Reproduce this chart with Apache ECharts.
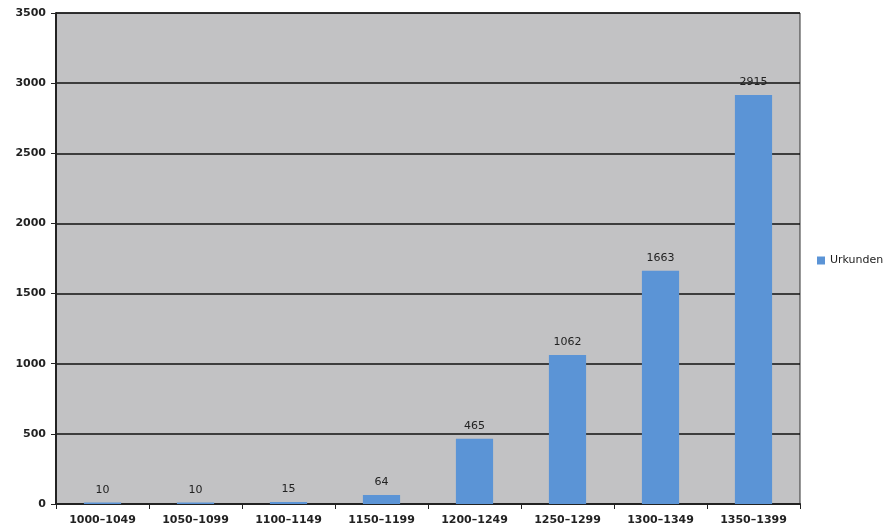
<!DOCTYPE html>
<html>
<head>
<meta charset="utf-8">
<script src="https://cdn.jsdelivr.net/npm/echarts@6/dist/echarts.min.js"></script>
<style>
  html, body { margin: 0; padding: 0; background: #fff; }
  #chart { width: 889px; height: 532px; }
</style>
</head>
<body>
<div id="chart"></div>
<script>
// Zeiträume und Anzahl der Urkunden
var periods = ['1000–1049', '1050–1099', '1100–1149', '1150–1199', '1200–1249', '1250–1299', '1300–1349', '1350–1399']
var urkunden = [10, 10, 15, 64, 465, 1062, 1663, 2915]
var seriesName = 'Urkunden'

var myChart = echarts.init(document.getElementById('chart'))
var textFont = 'DejaVu Sans'

var option = {
  animation: false,
  backgroundColor: '#ffffff',
  legend: {
    data: [{ name: seriesName, icon: 'rect' }],
    orient: 'vertical',
    left: 812,
    top: 250,
    itemWidth: 8,
    itemHeight: 8,
    itemGap: 4,
    textStyle: { fontFamily: textFont, fontSize: 11, color: '#222' }
  },
  grid: {
    left: 56,
    right: 89,
    top: 13,
    bottom: 28,
    show: true,
    backgroundColor: '#c2c2c4',
    borderColor: '#333',
    borderWidth: 1
  },
  xAxis: {
    type: 'category',
    data: periods,
    axisLine: { lineStyle: { color: '#222', width: 2 } },
    axisTick: { show: true, length: 5, lineStyle: { color: '#222' } },
    axisLabel: { fontFamily: textFont, fontSize: 11, fontWeight: 'bold', color: '#222', margin: 11 }
  },
  yAxis: {
    type: 'value',
    min: 0,
    max: 3500,
    interval: 500,
    axisLine: { show: true, lineStyle: { color: '#222', width: 2 } },
    axisTick: { show: true, length: 5, lineStyle: { color: '#222' } },
    axisLabel: {
      fontFamily: textFont,
      fontSize: 11,
      fontWeight: 'bold',
      color: '#222',
      margin: 10,
      formatter: function (v) { return String(v) }
    },
    splitLine: { lineStyle: { color: '#111', width: 1.5 } }
  },
  series: [{
    name: seriesName,
    type: 'bar',
    data: urkunden,
    barWidth: '40%',
    itemStyle: { color: '#5b94d6' },
    label: {
      show: true,
      position: 'top',
      distance: 7,
      fontFamily: textFont,
      fontSize: 11,
      color: '#222'
    }
  }]
}
myChart.setOption(option)
</script>
</body>
</html>
